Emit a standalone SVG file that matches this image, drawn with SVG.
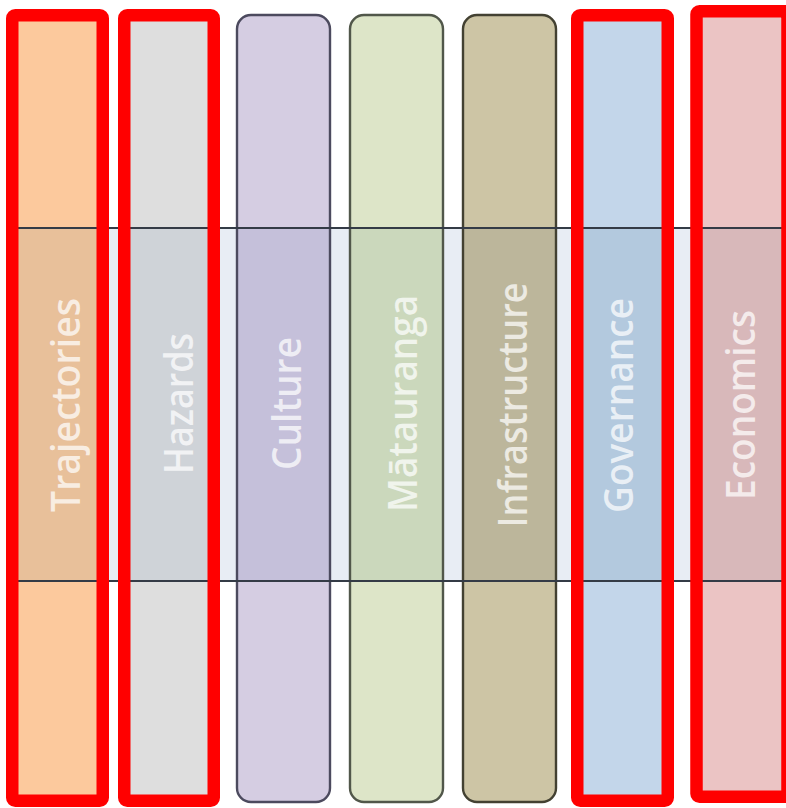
<svg xmlns="http://www.w3.org/2000/svg" width="786" height="808" viewBox="0 0 786 808">
<style>
.box{stroke-width:2.4;fill:none}
.lbl{font-family:"Open Sans","Noto Sans","Liberation Sans",sans-serif;font-size:39px;font-weight:600;fill:#ffffff;fill-opacity:0.72}
.hl{fill:none;stroke:#ff0000;stroke-width:12.5}
.bandline{stroke:#343b46;stroke-width:1.8}
</style>
<rect width="786" height="808" fill="#ffffff"/>
<g id="band">
<rect x="11" y="228" width="771" height="353" fill="#e8edf4"/>
</g>
<g id="trajectories">
<rect x="11" y="15" width="93" height="787" rx="14" fill="#fcc99d"/>
<rect x="12" y="228" width="91" height="353" fill="#e8c09a"/>
<rect class="box" x="11" y="15" width="93" height="787" rx="14" stroke="#4a4a4a"/>
<text class="lbl" transform="translate(80,405) rotate(-90)" text-anchor="middle" textLength="214" lengthAdjust="spacingAndGlyphs">Trajectories</text>
</g>
<g id="hazards">
<rect x="124" y="15" width="93" height="787" rx="14" fill="#dedede"/>
<rect x="125" y="228" width="91" height="353" fill="#cfd3d8"/>
<rect class="box" x="124" y="15" width="93" height="787" rx="14" stroke="#4a4a4a"/>
<text class="lbl" transform="translate(193,403.5) rotate(-90)" text-anchor="middle" textLength="141" lengthAdjust="spacingAndGlyphs">Hazards</text>
</g>
<g id="culture">
<rect x="237" y="15" width="93" height="787" rx="14" fill="#d5cde2"/>
<rect x="238" y="228" width="91" height="353" fill="#c5c0da"/>
<rect class="box" x="237" y="15" width="93" height="787" rx="14" stroke="#4c4a5e"/>
<text class="lbl" transform="translate(301,403.5) rotate(-90)" text-anchor="middle" textLength="133" lengthAdjust="spacingAndGlyphs">Culture</text>
</g>
<g id="matauranga">
<rect x="350" y="15" width="93" height="787" rx="14" fill="#dde5c8"/>
<rect x="351" y="228" width="91" height="353" fill="#cbd8bc"/>
<rect class="box" x="350" y="15" width="93" height="787" rx="14" stroke="#51574a"/>
<text class="lbl" transform="translate(417,403.5) rotate(-90)" text-anchor="middle" textLength="217" lengthAdjust="spacingAndGlyphs">Mātauranga</text>
</g>
<g id="infrastructure">
<rect x="463" y="15" width="93" height="787" rx="14" fill="#cdc5a5"/>
<rect x="464" y="228" width="91" height="353" fill="#bcb69b"/>
<rect class="box" x="463" y="15" width="93" height="787" rx="14" stroke="#434132"/>
<text class="lbl" transform="translate(527,405) rotate(-90)" text-anchor="middle" textLength="245" lengthAdjust="spacingAndGlyphs">Infrastructure</text>
</g>
<g id="governance">
<rect x="576" y="15" width="93" height="787" rx="14" fill="#c3d6ea"/>
<rect x="577" y="228" width="91" height="353" fill="#b3c9de"/>
<rect class="box" x="576" y="15" width="93" height="787" rx="14" stroke="#4a4a4a"/>
<text class="lbl" transform="translate(633,405.5) rotate(-90)" text-anchor="middle" textLength="215" lengthAdjust="spacingAndGlyphs">Governance</text>
</g>
<g id="economics">
<rect x="693" y="12" width="93" height="787" rx="14" fill="#ebc4c4"/>
<rect x="694" y="228" width="91" height="353" fill="#d8b8ba"/>
<rect class="box" x="693" y="12" width="93" height="787" rx="14" stroke="#4a4a4a"/>
<text class="lbl" transform="translate(755,405) rotate(-90)" text-anchor="middle" textLength="190" lengthAdjust="spacingAndGlyphs">Economics</text>
</g>
<g id="connectors">
<line class="bandline" x1="11" y1="228" x2="782" y2="228"/>
<line class="bandline" x1="11" y1="581" x2="782" y2="581"/>
</g>
<g id="highlights">
<rect class="hl" x="12.25" y="15.25" width="90.5" height="785.5" rx="3"/>
<rect class="hl" x="124.25" y="15.25" width="89.5" height="785.5" rx="3"/>
<rect class="hl" x="577.25" y="15.25" width="90.5" height="785.5" rx="3"/>
<rect class="hl" x="696.5" y="11.25" width="91" height="785.5" rx="3"/>
</g>
</svg>
